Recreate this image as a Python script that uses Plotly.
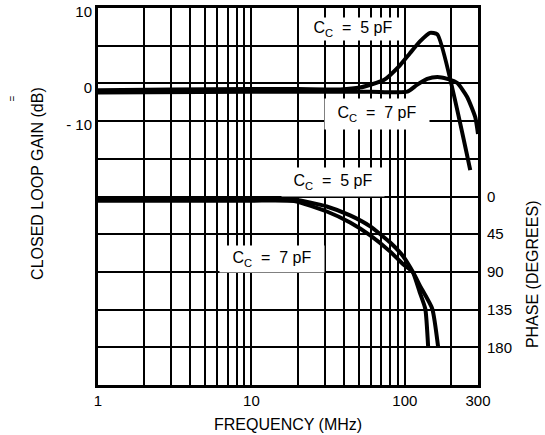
import numpy as np
import plotly.graph_objects as go

# ---- data ----
# x ticks / grid (MHz)
grid_freqs = [1, 2, 3, 4, 5, 6, 7, 8, 9, 10, 20, 30, 40, 50, 60, 70, 80, 90, 100, 200, 300]
x_tick_labels = {1: "1", 10: "10", 100: "100", 300: "300"}

# gain axis grid (5 dB / division as drawn) and labels
gain_grid = [10, 5, 0, -5, -10, -15, -20, -25, -30, -35, -40]
gain_labels = {10: "10", 0: "0", -5: "- 10"}

# phase axis ticks
phase_ticks = [0, 45, 90, 135, 180]

# closed loop gain, Cc = 5 pF
f_gain_5 = [1, 3, 10, 20, 38, 51, 73, 93, 108, 126, 146, 163, 267]
gain_5 = [-0.9, -0.8, -0.75, -0.75, -0.8, -0.55, 0.45, 2.4, 4.0, 5.6, 6.7, 6.5, -11.5]

# closed loop gain, Cc = 7 pF
f_gain_7 = [1, 10, 30, 60, 104, 120, 140, 163, 189, 220, 255, 288, 300]
gain_7 = [-1.2, -1.1, -1.1, -1.1, -1.1, -0.2, 0.6, 0.85, 0.6, 0.05, -1.8, -4.5, -6.7]

# phase, Cc = 5 pF
f_phase_5 = [1, 10, 19, 31, 44, 59.5, 80, 97.5, 113, 125, 136, 142]
phase_5 = [2.5, 2.5, 3.5, 11.9, 22.6, 35.7, 54.7, 71.4, 90.4, 114, 134, 180]

# phase, Cc = 7 pF
f_phase_7 = [1, 10, 19, 31, 44, 59.5, 80, 97.5, 113, 125, 151, 165]
phase_7 = [5, 5, 5.5, 17.9, 31, 46.4, 65.5, 80.9, 90.4, 106, 134, 180]

SP = "&nbsp;"
labels = [
    "C<sub>C</sub>" + SP * 2 + "=" + SP * 2 + "5 pF",
    "C<sub>C</sub>" + SP * 2 + "=" + SP * 2 + "7 pF",
    "C<sub>C</sub>" + SP * 2 + "=" + SP * 2 + "5 pF",
    "C<sub>C</sub>" + SP * 2 + "=" + SP * 2 + "7 pF",
]
label_f = [46, 66, 34, 13.6]
label_gain = [7.2, -4.1, -13.1, -23.3]

FONT = "Liberation Sans, Arial, sans-serif"

fig = go.Figure()
line_style = dict(color="black", width=4, shape="spline", smoothing=0.5)
fig.add_trace(go.Scatter(x=f_gain_5, y=gain_5, mode="lines", line=line_style, yaxis="y", showlegend=False))
fig.add_trace(go.Scatter(x=f_gain_7, y=gain_7, mode="lines", line=line_style, yaxis="y", showlegend=False))
fig.add_trace(go.Scatter(x=f_phase_5, y=phase_5, mode="lines", line=line_style, yaxis="y2", showlegend=False))
fig.add_trace(go.Scatter(x=f_phase_7, y=phase_7, mode="lines", line=line_style, yaxis="y2", showlegend=False))

annotations = []
widths = [98, 102, 100, 102]
heights = [20, 28, 26, 24]
for t, f, g, w, h in zip(labels, label_f, label_gain, widths, heights):
    annotations.append(dict(
        x=float(np.log10(f)), y=g, xref="x", yref="y", text=t, showarrow=False,
        bgcolor="white", width=w, height=h, font=dict(family=FONT, size=16, color="black"),
        align="center", valign="middle", xanchor="center", yanchor="middle"))

# axis titles
title_font = dict(family=FONT, size=16, color="black")
annotations.append(dict(x=-0.158, y=0.536, xref="paper", yref="paper", text="CLOSED LOOP GAIN (dB)",
                        textangle=-90, showarrow=False, font=title_font,
                        xanchor="center", yanchor="middle"))
annotations.append(dict(x=1.142, y=0.294, xref="paper", yref="paper", text="PHASE (DEGREES)",
                        textangle=-90, showarrow=False, font=title_font,
                        xanchor="center", yanchor="middle"))
annotations.append(dict(x=0.5, y=-0.105, xref="paper", yref="paper", text="FREQUENCY (MHz)",
                        showarrow=False, font=title_font, xanchor="center", yanchor="middle"))
annotations.append(dict(x=-0.226, y=0.76, xref="paper", yref="paper", text="=",
                        textangle=-90, showarrow=False, font=dict(family=FONT, size=10, color="black"),
                        xanchor="center", yanchor="middle"))

fig.update_layout(
    width=545, height=435,
    margin=dict(l=98, r=67, t=8, b=50, autoexpand=False),
    paper_bgcolor="white", plot_bgcolor="white",
    font=dict(family=FONT, size=15, color="black"),
    xaxis=dict(
        type="log", range=[0, np.log10(300)],
        tickvals=grid_freqs, ticktext=[x_tick_labels.get(v, "") for v in grid_freqs],
        showgrid=True, gridcolor="black", gridwidth=2,
        showline=True, linecolor="black", linewidth=3, mirror=True,
        ticks="", zeroline=False, tickfont=dict(size=15), automargin=False,
        ticklabeloverflow="allow",
    ),
    yaxis=dict(
        range=[-40, 10], tickvals=gain_grid, ticktext=[gain_labels.get(v, "") for v in gain_grid],
        showgrid=True, gridcolor="black", gridwidth=2,
        showline=True, linecolor="black", linewidth=3, mirror=True,
        ticks="", zeroline=False, tickfont=dict(size=15), automargin=False,
        ticklabeloverflow="allow", ticklabelshift=4,
    ),
    yaxis2=dict(
        overlaying="y", side="right", range=[225, -225],
        tickvals=phase_ticks, ticktext=[str(v) for v in phase_ticks],
        showgrid=False, zeroline=False, showline=False, ticks="",
        ticklabelstandoff=8, tickfont=dict(size=15), automargin=False,
        ticklabeloverflow="allow",
    ),
    annotations=annotations,
    showlegend=False,
)

fig.write_html("out.html", config={"displayModeBar": False},
               post_script="document.body.style.margin='0';")
